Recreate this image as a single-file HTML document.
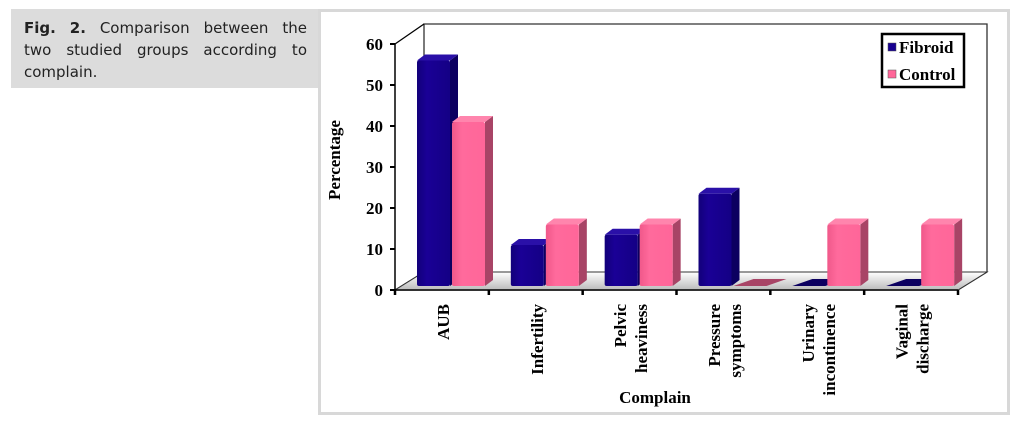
<!DOCTYPE html>
<html><head><meta charset="utf-8"><style>
body{margin:0;width:1015px;height:426px;background:#fff;position:relative;overflow:hidden;font-family:"Liberation Sans",sans-serif}
#cap{position:absolute;left:11px;top:9px;width:309px;height:79px;background:#dcdcdc}
#cap div{position:absolute;left:13px;width:283px;font-size:15px;line-height:22px;color:#222;font-family:"DejaVu Sans",sans-serif;text-align:justify;text-align-last:justify;white-space:nowrap}
#cap div.l{text-align-last:left}
#frame{position:absolute;left:318px;top:9px;width:686px;height:400px;border:3px solid #d8d8d8;background:#fff}
svg{position:absolute;left:0;top:0}
</style></head><body>
<div id="cap">
<div style="top:8px"><b>Fig.</b> <b>2.</b> Comparison between the</div>
<div style="top:30px">two studied groups according to</div>
<div class="l" style="top:52px">complain.</div>
</div>
<div id="frame"></div>
<svg id="chart" width="1015" height="426" font-family="Liberation Serif, serif" font-weight="bold"></svg>
<script>
const categories=[["AUB"],["Infertility"],["Pelvic","heaviness"],["Pressure","symptoms"],["Urinary","incontinence"],["Vaginal","discharge"]];
const fibroid=[55,10,12.5,22.5,0,0];
const control=[40,15,15,0,15,15];
const yTicks=[0,10,20,30,40,50,60];
const svg=document.getElementById('chart');const NS='http://www.w3.org/2000/svg';
function mk(t,a,p){const e=document.createElementNS(NS,t);for(const k in a)e.setAttribute(k,a[k]);(p||svg).appendChild(e);return e;}
const x0=395,x1=958,y0=290,DX=29,DY=-18;
const y=v=>y0-v*(246/60);
const gw=(x1-x0)/categories.length;
let e=mk('path',{d:`M${x0},${y0} L${x0+DX},${y0+DY} L${x0+DX},${y(60)+DY-2} L${x1+DX},${y(60)+DY-2} L${x1+DX},${y0+DY} L${x1},${y0} Z`,fill:'#fff',stroke:'#333','stroke-width':1.3});

e=mk('path',{d:`M${x0+DX},${y0+DY} L${x1+DX},${y0+DY}`,stroke:'#333','stroke-width':1});
e=mk('path',{d:`M${x0},${y(60)} L${x0+DX},${y(60)+DY-2}`,stroke:'#000','stroke-width':1.3});
const defs=mk('defs',{});
defs.innerHTML='<linearGradient id="fl" x1="0" y1="0" x2="0" y2="1"><stop offset="0" stop-color="#fff"/><stop offset="1" stop-color="#bbb"/></linearGradient>'+
'<linearGradient id="gb" x1="0" y1="0" x2="1" y2="0"><stop offset="0" stop-color="#12007a"/><stop offset="0.3" stop-color="#1a0096"/><stop offset="1" stop-color="#140085"/></linearGradient>'+
'<linearGradient id="gp" x1="0" y1="0" x2="1" y2="0"><stop offset="0" stop-color="#f0588a"/><stop offset="0.3" stop-color="#ff6a9c"/><stop offset="1" stop-color="#ff6699"/></linearGradient>';
e=mk('path',{d:`M${x0},${y0} L${x0+DX},${y0+DY} L${x1+DX},${y0+DY} L${x1},${y0} Z`,fill:'url(#fl)',stroke:'#333','stroke-width':1});

e=mk('line',{x1:x0,y1:y(60),x2:x0,y2:y0,stroke:'#000','stroke-width':1.5});

yTicks.forEach(t=>{mk('line',{x1:x0-5,y1:y(t),x2:x0,y2:y(t),stroke:'#000','stroke-width':2});
 const tx=mk('text',{x:x0-12,y:y(t)+6,'text-anchor':'end','font-size':17});tx.textContent=t;
 });
e=mk('line',{x1:x0,y1:y0,x2:x1,y2:y0,stroke:'#000','stroke-width':1.5});

for(let i=0;i<=categories.length;i++)mk('line',{x1:x0+i*gw,y1:y0,x2:x0+i*gw,y2:y0+5,stroke:'#000','stroke-width':2.5});
function bar(bx,v,front,side,top,name){
 const g=mk('g',{});
 const w=33,d=8,dd=-6,b=286,t=y(v)-4;
 if(v<=0){mk('path',{d:`M${bx},${b} L${bx+w},${b} L${bx+w+d*2.5},${b-7} L${bx+d*2.5},${b-7} Z`,fill:side},g);return;}
 mk('path',{d:`M${bx+w},${t} L${bx+w+d},${t+dd} L${bx+w+d},${b+dd} L${bx+w},${b} Z`,fill:side},g);
 mk('path',{d:`M${bx},${t} L${bx+d},${t+dd} L${bx+w+d},${t+dd} L${bx+w},${t} Z`,fill:top},g);
 mk('rect',{x:bx,y:t,width:w,height:b-t,fill:front,rx:2},g);
}
categories.forEach((c,i)=>{
 const gx=x0+i*gw;
 bar(gx+22,fibroid[i],'url(#gb)','#0c0060','#2a10a8','bar-fibroid-'+i);
 bar(gx+57,control[i],'url(#gp)','#a84466','#ff85ad','bar-control-'+i);
 const cx=gx+gw/2+1;
 c.forEach((ln,j)=>{const off=(j-(c.length-1)/2)*21;
  const tx=mk('text',{transform:`translate(${cx+off+6},304) rotate(-90)`,'text-anchor':'end','font-size':17});tx.textContent=ln;
  });
});
e=mk('text',{x:655,y:403,'text-anchor':'middle','font-size':17});e.textContent='Complain';

e=mk('text',{transform:'translate(340,160) rotate(-90)','text-anchor':'middle','font-size':17});e.textContent='Percentage';

const lg=mk('g',{});
mk('rect',{x:882,y:34,width:82,height:53,fill:'#fff',stroke:'#000','stroke-width':2.5},lg);
[['Fibroid','#170090',53],['Control','#ff6699',80]].forEach(([n,c,yy])=>{
 const en=mk('g',{},lg);
 mk('rect',{x:888,y:yy-10,width:8,height:8,fill:c,stroke:'#555','stroke-width':0.5},en);
 const tx=mk('text',{x:899,y:yy,'font-size':17},en);tx.textContent=n;});
</script>
</body></html>
